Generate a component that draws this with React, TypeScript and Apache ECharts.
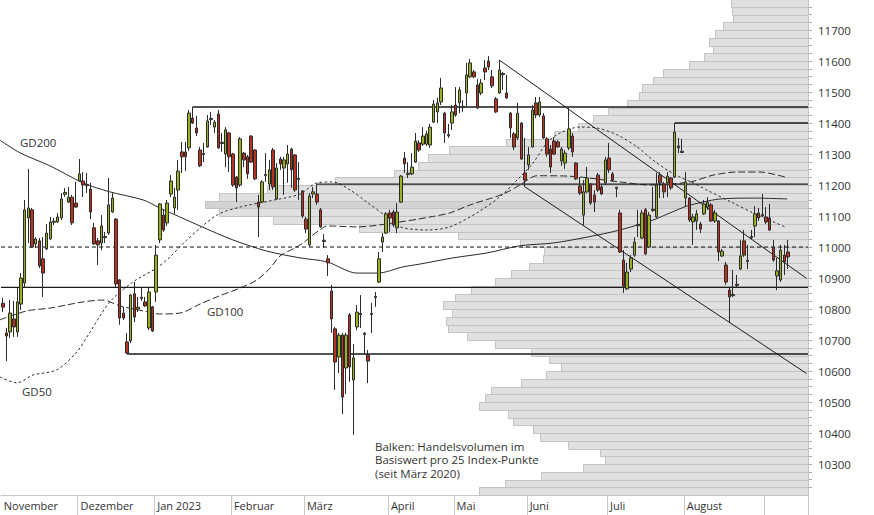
import React, { useEffect, useRef } from 'react';
import * as echarts from 'echarts';

// ---------- categories (trading days) ----------
const FIRST_DAY = [2022, 10, 2]; // 2 Nov 2022
const CATEGORY_COUNT = 221;
const HOLIDAYS = ['2022-12-26', '2023-01-02', '2023-04-07', '2023-04-10', '2023-05-01', '2023-05-18', '2023-05-29', '2023-08-01'];
const MONTH_LABELS: Record<string, string> = {
  '2022-11': 'November', '2022-12': 'Dezember', '2023-01': 'Jan 2023', '2023-02': 'Februar',
  '2023-03': 'März', '2023-04': 'April', '2023-05': 'Mai', '2023-06': 'Juni', '2023-07': 'Juli', '2023-08': 'August',
};

// ---------- candles ----------
const opens = [10819,10723,10726,10768,10726,10816,10884,11094,11120,11010,11020,10962,10994,11026,11080,11081,11094,11170,11145,11161,11142,11213,11213,11198,11187,11062,11020,11013,11030,11045,11113,11090,10894,10787,10694,10697,10849,10800,10834,10823,10739,10807,10855,11023,11103,11078,11171,11126,11184,11307,11307,11320,11416,11384,11313,11298,11323,11411,11387,11429,11334,11300,11368,11300,11226,11200,11303,11291,11358,11313,11145,11145,11230,11203,11313,11155,11284,11255,11268,11316,11297,11218,11181,11090,11007,11171,11171,11120,11018,10962,10858,10736,10645,10716,10610,10781,10571,10742,10782,10718,10652,10782,10837,10887,11016,11045,11110,11113,11062,11145,11287,11234,11236,11274,11336,11332,11332,11329,11403,11436,11468,11432,11359,11400,11458,11465,11450,11497,11549,11565,11523,11497,11578,11600,11549,11478,11497,11556,11497,11432,11365,11352,11400,11239,11265,11323,11465,11426,11423,11349,11316,11342,11339,11278,11271,11320,11358,11271,11197,11103,11178,11203,11168,11232,11194,11207,11287,11236,11189,11110,10958,10865,10929,10974,11069,11029,11120,11000,11118,11097,11232,11203,11207,11223,11226,11326,11305,11158,11158,11081,11084,11074,11107,11129,11136,11084,11084,10971,10942,10861,10843,10876,10929,11020,10953,11030,11068,11110,11101,11097,11094,11000,10907,10894,10974,10984];
const closes = [10806,10713,10787,10742,10823,10900,11120,11126,11000,11026,10939,10916,11045,11081,11083,11097,11155,11176,11161,11078,11129,11236,11200,11202,11113,11010,11007,11068,11034,11136,11158,10881,10771,10771,10658,10845,10774,10806,10838,10810,10855,10729,10974,11139,11055,11142,11213,11161,11245,11291,11291,11432,11400,11368,11262,11302,11407,11415,11403,11320,11338,11378,11291,11200,11191,11349,11281,11236,11274,11220,11129,11210,11234,11249,11194,11255,11268,11281,11300,11249,11184,11222,11100,11058,11165,11178,11145,11065,11022,10949,10768,10629,10716,10516,10716,10613,10642,10790,10786,10722,10632,10786,10841,10962,11032,11107,11094,11071,11113,11229,11268,11238,11258,11342,11313,11358,11365,11387,11461,11465,11513,11368,11363,11436,11426,11507,11454,11555,11594,11549,11449,11529,11565,11581,11520,11436,11571,11560,11481,11384,11323,11432,11284,11216,11297,11442,11426,11468,11352,11300,11258,11300,11323,11316,11303,11381,11307,11220,11174,11178,11223,11142,11145,11184,11171,11281,11249,11216,11193,10984,10874,10919,10965,11016,11073,11110,10978,11103,11122,11200,11207,11178,11229,11191,11371,11320,11309,11210,11087,11097,11107,11058,11139,11145,11084,11110,10984,10987,10887,10839,10847,10880,10971,10974,10957,11034,11107,11094,11105,11081,11055,10958,10923,10990,10952,10968];
const lows = [10790,10632,10707,10710,10710,10797,10868,11013,10997,10997,10932,10839,10990,11023,11071,11078,11087,11162,11142,11071,11126,11210,11161,11174,11090,11007,10942,10990,11013,11039,11110,10871,10749,10765,10655,10690,10758,10790,10826,10807,10732,10726,10823,11013,11049,11068,11161,11107,11120,11239,11245,11310,11397,11358,11258,11274,11320,11394,11368,11317,11307,11258,11242,11194,11145,11194,11258,11220,11271,11216,11032,11142,11210,11184,11184,11152,11249,11168,11207,11191,11178,11152,11094,11045,11000,11158,11136,11062,10997,10907,10723,10539,10594,10461,10526,10565,10394,10732,10739,10652,10561,10723,10807,10884,10984,11042,11049,11065,11045,11142,11239,11223,11232,11271,11307,11326,11326,11320,11400,11400,11458,11336,11352,11378,11420,11432,11436,11455,11545,11545,11445,11490,11539,11571,11513,11432,11494,11507,11478,11352,11313,11345,11281,11194,11249,11320,11416,11420,11349,11291,11239,11297,11320,11262,11252,11313,11291,11216,11168,11071,11174,11136,11113,11178,11168,11200,11239,11210,11161,10981,10852,10861,10919,10968,11032,11026,10974,10997,11113,11094,11158,11158,11161,11184,11223,11303,11303,11129,11081,11007,11055,11045,11103,11120,11081,11078,10955,10968,10878,10755,10839,10871,10926,10968,10929,11026,11032,11084,11097,11074,11052,10952,10861,10887,10910,10929];
const highs = [10836,10739,10829,10826,10868,10916,11152,11252,11126,11032,11029,11032,11074,11097,11094,11110,11174,11190,11194,11168,11210,11284,11242,11239,11207,11078,11029,11103,11049,11223,11174,11094,10897,10807,10723,10849,10887,10839,10871,10839,10871,10810,11007,11142,11120,11152,11232,11191,11281,11339,11339,11442,11452,11423,11323,11336,11426,11436,11410,11442,11368,11387,11371,11304,11229,11355,11307,11297,11361,11316,11168,11216,11303,11281,11320,11271,11291,11291,11329,11320,11300,11274,11184,11097,11174,11194,11203,11126,11042,10974,10878,10742,10723,10723,10723,10787,10687,10813,10845,10726,10668,10820,10855,10984,11045,11113,11120,11120,11142,11232,11307,11274,11303,11368,11345,11387,11375,11397,11474,11481,11545,11436,11397,11458,11516,11516,11474,11594,11607,11571,11542,11542,11603,11616,11571,11484,11603,11565,11555,11436,11371,11465,11403,11352,11323,11458,11484,11484,11432,11355,11329,11355,11345,11323,11313,11449,11368,11274,11226,11216,11258,11207,11184,11239,11200,11291,11336,11242,11194,11120,10990,10949,10974,11032,11120,11120,11126,11113,11194,11239,11242,11210,11242,11226,11400,11352,11349,11242,11161,11107,11120,11081,11152,11161,11142,11120,11087,10994,10952,10868,10926,10910,11023,11055,11007,11055,11132,11126,11171,11129,11139,11023,10965,11007,11007,11023];

// ---------- volume profile (buckets of 25 index points) ----------
const BUCKET_SIZE = 25;
const volumeBucketLows = [10200,10225,10250,10275,10300,10325,10350,10375,10400,10425,10450,10475,10500,10525,10550,10575,10600,10625,10650,10675,10700,10725,10750,10775,10800,10825,10850,10875,10900,10925,10950,10975,11000,11025,11050,11075,11100,11125,11150,11175,11200,11225,11250,11275,11300,11325,11350,11375,11400,11425,11450,11475,11500,11525,11550,11575,11600,11625,11650,11675,11700,11725,11750,11775];
const volumes = [329,303,267,225,203,208,240,268,275,295,300,329,323,317,287,262,247,259,277,313,341,360,362,356,365,353,337,313,297,279,265,264,288,350,449,535,589,603,589,541,473,414,390,380,359,302,254,230,215,200,181,169,166,155,145,119,104,95,99,93,85,75,76,77];
const POC_BUCKET = 11125;

// ---------- moving averages [day index, value] ----------
const GD200 = [[-0.8,11345],[4.7,11304],[12.9,11262],[22,11207],[29.3,11178],[38.4,11152],[43,11126],[54,11068],[63,11023],[72.3,10987],[81.4,10965],[88.8,10952],[97,10916],[102.7,10916],[109.6,10936],[114.2,10945],[123.3,10965],[132.6,10981],[141.6,11004],[150.7,11013],[160,11032],[169,11055],[178,11087],[182.7,11110],[187.3,11132],[191.7,11145],[196.4,11155],[205.5,11158],[214.8,11155]];
const GD100 = [[-0.8,10765],[6.6,10794],[12.9,10803],[22,10823],[27.4,10829],[32.1,10810],[38.4,10794],[43,10784],[48.5,10787],[54,10816],[58.6,10839],[65,10868],[69.6,10894],[73.2,10932],[75.9,10971],[80,10997],[82.2,11013],[84.9,11039],[86.8,11055],[88.8,11068],[97,11065],[108.8,11081],[117,11097],[122.4,11110],[128,11136],[137,11171],[141.6,11200],[146.3,11230],[154.5,11229],[169,11210],[177.2,11200],[188.2,11210],[194.5,11232],[201,11242],[207.3,11242],[214.2,11226]];
const GD50 = [[-0.8,10581],[3.9,10562],[8.3,10587],[14.8,10604],[20.3,10662],[23.9,10726],[29.3,10823],[35.6,10887],[42.2,10933],[45.8,10968],[50.4,11023],[58.6,11103],[65,11129],[73.2,11149],[81.4,11171],[86,11207],[90.4,11210],[95.1,11184],[99.7,11145],[105.2,11097],[108.8,11065],[116.1,11055],[122.4,11065],[129.8,11110],[136.1,11162],[140.8,11216],[145.2,11271],[149,11336],[152.6,11368],[158,11387],[162.7,11384],[168.2,11362],[173.7,11323],[178,11281],[181.9,11249],[185.4,11226],[189,11207],[192.8,11184],[200,11142],[205.5,11110],[214.2,11065]];

// ---------- support / resistance ----------
const LEVEL_START = [52, 184, 86, -0.5, 34];
const LEVEL_VALUE = [11452, 11400, 11203, 10870, 10655];
const DASHED_LEVEL = 11000;
const TREND_UPPER = [[136, 11603], [220.1, 10899]];
const TREND_LOWER = [[143, 11194], [220.1, 10592]];

const FONT = '"Open Sans", "Noto Sans", sans-serif';
const TEXT = '#333333';

export default function App() {
  const ref = useRef<HTMLDivElement>(null);
  useEffect(() => {
    if (!ref.current) return;
    const chart = echarts.init(ref.current, undefined, { renderer: 'svg' });

    const dates: string[] = [];
    const d = new Date(Date.UTC(FIRST_DAY[0], FIRST_DAY[1], FIRST_DAY[2]));
    while (dates.length < CATEGORY_COUNT) {
      const dow = d.getUTCDay();
      const s = d.toISOString().slice(0, 10);
      if (dow !== 0 && dow !== 6 && !HOLIDAYS.includes(s)) dates.push(s);
      d.setUTCDate(d.getUTCDate() + 1);
    }
    const monthStarts = new Set<number>();
    dates.forEach((s, i) => { if (i === 0 || s.slice(0, 7) !== dates[i - 1].slice(0, 7)) monthStarts.add(i); });

    const candles = opens.map((o, i) => [o, closes[i], lows[i], highs[i]]);
    const xMax = CATEGORY_COUNT - 0.5;

    const lineSeries = (data: number[][], type: any, width = 1, color = '#333', smooth: number | boolean = false) => ({
      type: 'line', xAxisIndex: 1, yAxisIndex: 0, data, symbol: 'none', silent: true, z: 3, smooth,
      lineStyle: { color, width, type },
    });

    const series: any[] = [
      {
        type: 'custom', xAxisIndex: 2, yAxisIndex: 0, z: 1, silent: true,
        data: volumeBucketLows.map((low, k) => [low, volumes[k]]),
        encode: { x: 1, y: 0 },
        renderItem: (params: any, api: any) => {
          const low = api.value(0);
          const vol = api.value(1);
          const tl = api.coord([vol, low + BUCKET_SIZE]);
          const br = api.coord([0, low]);
          return {
            type: 'rect',
            shape: { x: Math.round(tl[0]) + 0.5, y: Math.round(tl[1]) + 0.5, width: Math.round(br[0] - tl[0]), height: Math.round(br[1]) - Math.round(tl[1]) },
            style: { fill: low === POC_BUCKET ? '#d3d3d3' : '#e0e0e0', stroke: '#c3c3c3', lineWidth: 1 },
          };
        },
      },
      lineSeries(GD200, 'solid', 1, '#2a2a2a', 0.3),
      lineSeries(GD100, [7, 3], 1, '#2a2a2a', 0.3),
      lineSeries(GD50, [2.5, 2.5], 1, '#2a2a2a', 0.3),
      lineSeries([[-0.5, DASHED_LEVEL], [xMax, DASHED_LEVEL]], [4, 3], 1, '#111'),
      ...LEVEL_START.map((s, k) => lineSeries([[s, LEVEL_VALUE[k]], [xMax, LEVEL_VALUE[k]]], 'solid', 1.4, '#1a1a1a')),
      lineSeries(TREND_UPPER, 'solid', 1, '#1a1a1a'),
      lineSeries(TREND_LOWER, 'solid', 1, '#1a1a1a'),
      {
        type: 'candlestick', xAxisIndex: 0, yAxisIndex: 0, data: candles, barWidth: 3, z: 5, silent: true,
        itemStyle: { color: '#9bb01d', color0: '#b9321f', borderColor: '#2b2b2b', borderColor0: '#2b2b2b', borderWidth: 1 },
      },
    ];

    chart.setOption({
      animation: false,
      grid: { left: 1, top: 0, width: 807, height: 495, containLabel: false },
      xAxis: [
        {
          type: 'category', data: dates, boundaryGap: true, gridIndex: 0,
          axisLine: { show: true, onZero: false, lineStyle: { color: '#c8c8c8', width: 1 } },
          axisTick: { show: true, interval: (i: number) => i > 0 && monthStarts.has(i), length: 20, lineStyle: { color: '#c8c8c8' } },
          axisLabel: {
            interval: (i: number, v: string) => monthStarts.has(i) && !!MONTH_LABELS[v.slice(0, 7)],
            formatter: (v: string) => MONTH_LABELS[v.slice(0, 7)] || '',
            align: 'left', margin: 5, fontSize: 11, color: TEXT, fontFamily: FONT, padding: [0, 0, 0, 1], hideOverlap: false,
          },
          splitLine: { show: false },
        },
        { type: 'value', min: -0.5, max: xMax, show: false, gridIndex: 0, axisLine: { onZero: false } },
        { type: 'value', min: 0, max: 807, inverse: true, show: false, gridIndex: 0, axisLine: { onZero: false } },
      ],
      yAxis: [
        {
          type: 'value', position: 'right', min: 10200, max: 11797, interval: 25,
          axisLine: { show: true, onZero: false, lineStyle: { color: '#b0b0b0' } },
          axisTick: { show: true, length: 4, lineStyle: { color: '#a8a8a8' } },
          axisLabel: {
            formatter: (v: number) => (v % 100 === 0 && v > 10200 ? String(v) : ''),
            showMaxLabel: false, showMinLabel: false, margin: 10, fontSize: 11.5, color: TEXT, fontFamily: FONT,
          },
          splitLine: { show: false },
        },
      ],
      graphic: [
        { type: 'line', shape: { x1: 808.5, y1: 495, x2: 808.5, y2: 515 }, style: { stroke: '#c8c8c8', lineWidth: 1 }, silent: true },
        { type: 'text', x: 20, y: 142, style: { text: 'GD200', fontSize: 11.5, fill: TEXT, fontFamily: FONT, textVerticalAlign: 'middle' } },
        { type: 'text', x: 207, y: 311, style: { text: 'GD100', fontSize: 11.5, fill: TEXT, fontFamily: FONT, textVerticalAlign: 'middle' } },
        { type: 'text', x: 22, y: 391, style: { text: 'GD50', fontSize: 11.5, fill: TEXT, fontFamily: FONT, textVerticalAlign: 'middle' } },
        {
          type: 'text', x: 375, y: 440, style: {
            text: 'Balken: Handelsvolumen im\nBasiswert pro 25 Index-Punkte\n(seit März 2020)',
            fontSize: 11.5, lineHeight: 13.3, fill: TEXT, fontFamily: FONT, textVerticalAlign: 'top',
          },
        },
      ],
      series,
    });
    return () => chart.dispose();
  }, []);
  return <div ref={ref} style={{ position: 'fixed', left: 0, top: 0, width: 874, height: 515, background: '#fff' }} />;
}
